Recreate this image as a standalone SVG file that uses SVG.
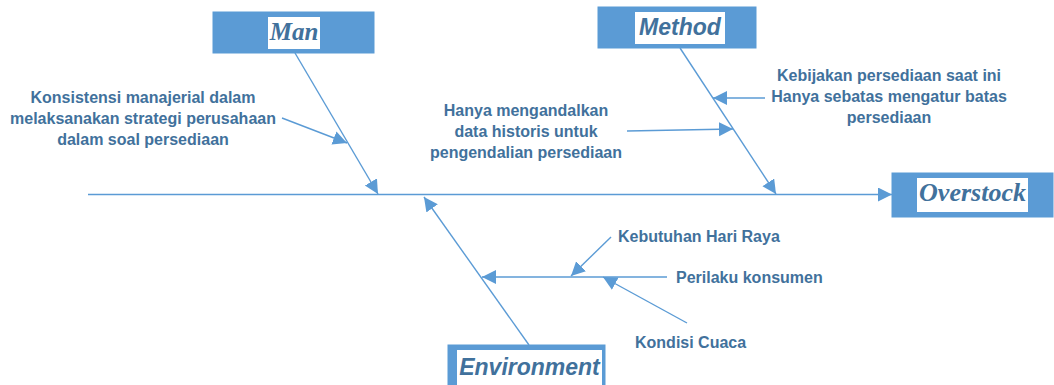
<svg xmlns="http://www.w3.org/2000/svg" width="1054" height="385" viewBox="0 0 1054 385">
<style>
.box{fill:#5B9BD5;stroke:#5B9BD5;stroke-width:1}
.lbl{fill:#ffffff}
.cat{fill:#41719C;font-weight:bold;font-style:italic}
.serif{font-family:"Liberation Serif","Times New Roman",serif}
.sans{font-family:"Liberation Sans",Arial,sans-serif}
.t{fill:#41719C;font-family:"Liberation Sans",Arial,sans-serif;font-weight:bold;font-size:16px}
.c{text-anchor:middle}
.ln{stroke:#5B9BD5;stroke-width:1.4;fill:none;marker-end:url(#ah)}
</style>
<defs>
<marker id="ah" markerUnits="userSpaceOnUse" markerWidth="15" markerHeight="15" refX="14" refY="7" orient="auto">
<path d="M0,0 L14,7 L0,14 z" fill="#5B9BD5"/>
</marker>
</defs>
<rect width="1054" height="385" fill="#ffffff"/>
<g id="connectors">
<line class="ln" x1="88" y1="194.5" x2="892" y2="194.5"/>
<line class="ln" x1="295" y1="53" x2="378" y2="194"/>
<line class="ln" x1="680" y1="48" x2="776" y2="194"/>
<line class="ln" x1="529" y1="345" x2="424" y2="197"/>
<line class="ln" x1="282" y1="118" x2="347" y2="143"/>
<line class="ln" x1="765" y1="98" x2="713" y2="98"/>
<line class="ln" x1="627" y1="131" x2="733" y2="129"/>
<line class="ln" x1="667" y1="277" x2="482" y2="277"/>
<line class="ln" x1="611" y1="237" x2="571" y2="276"/>
<line class="ln" x1="687" y1="323" x2="603" y2="277"/>
</g>
<g id="man">
<rect class="box" x="213" y="12" width="161" height="41"/>
<rect class="lbl" x="268" y="17" width="52" height="32"/>
<text class="cat serif c" x="294" y="40" font-size="25">Man</text>
</g>
<g id="method">
<rect class="box" x="598" y="7" width="158" height="41"/>
<rect class="lbl" x="635" y="12" width="90" height="32"/>
<text class="cat sans c" x="680" y="35" font-size="23">Method</text>
</g>
<g id="overstock">
<rect class="box" x="892" y="173" width="161" height="44"/>
<rect class="lbl" x="917" y="178" width="111" height="34"/>
<text class="cat serif c" x="972.5" y="201" font-size="26">Overstock</text>
</g>
<g id="environment">
<rect class="box" x="448" y="345" width="157" height="45"/>
<rect class="lbl" x="457" y="350" width="145" height="40"/>
<text class="cat sans c" x="529.5" y="375" font-size="23">Environment</text>
</g>
<g id="cause-man">
<text class="t c" x="143" y="103">Konsistensi manajerial dalam</text>
<text class="t c" x="143" y="124">melaksanakan strategi perusahaan</text>
<text class="t c" x="143" y="145">dalam soal persediaan</text>
</g>
<g id="cause-method-1">
<text class="t c" x="526" y="116">Hanya mengandalkan</text>
<text class="t c" x="526" y="137">data historis untuk</text>
<text class="t c" x="526" y="158">pengendalian persediaan</text>
</g>
<g id="cause-method-2">
<text class="t c" x="889" y="81">Kebijakan persediaan saat ini</text>
<text class="t c" x="889" y="102">Hanya sebatas mengatur batas</text>
<text class="t c" x="889" y="123">persediaan</text>
</g>
<g id="cause-env">
<text class="t" x="618" y="242">Kebutuhan Hari Raya</text>
<text class="t" x="676" y="283">Perilaku konsumen</text>
<text class="t" x="635" y="348">Kondisi Cuaca</text>
</g>
</svg>
